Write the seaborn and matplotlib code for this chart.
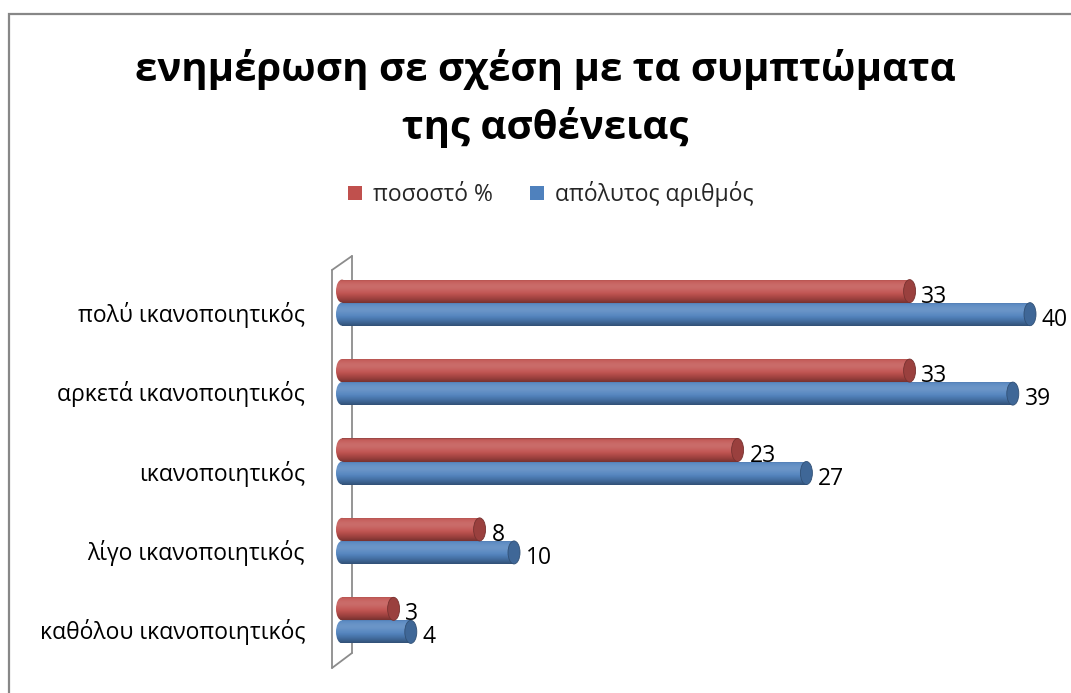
import numpy as np
import pandas as pd
import matplotlib
matplotlib.use("Agg")
import matplotlib.pyplot as plt
import matplotlib.transforms as mtransforms
import seaborn as sns
from matplotlib.patches import Ellipse, Rectangle, Patch
from matplotlib.lines import Line2D
from matplotlib.colors import to_rgb

# --- data -------------------------------------------------------------
categories = [
    "πολύ ικανοποιητικός",
    "αρκετά ικανοποιητικός",
    "ικανοποιητικός",
    "λίγο ικανοποιητικός",
    "καθόλου ικανοποιητικός",
]
percent = [33, 33, 23, 8, 3]
absolute = [40, 39, 27, 10, 4]
series_names = ["ποσοστό %", "απόλυτος αριθμός"]
title_lines = ["ενημέρωση σε σχέση με τα συμπτώματα", "της ασθένειας"]

df = pd.DataFrame({
    "κατηγορία": categories * 2,
    "τιμή": percent + absolute,
    "σειρά": [series_names[0]] * len(categories) + [series_names[1]] * len(categories),
})

colors = {series_names[0]: "#C0504D", series_names[1]: "#4F81BD"}

# --- styling ----------------------------------------------------------
sns.set_theme(style="white")
plt.rcParams["font.family"] = ["Open Sans", "DejaVu Sans"]

W, H = 1071, 693
fig = plt.figure(figsize=(W / 100, H / 100), dpi=100)
fig.patch.set_facecolor("white")


def fx(px):
    return px / W


def fy(py):
    return 1 - py / H


PX_PER_UNIT = 17.2
ZERO_PX = 342          # pixel column of value 0
X_MIN = -0.6           # room for the rounded back end of each bar
ax_left = ZERO_PX + X_MIN * PX_PER_UNIT
ax_top, ax_bottom = 255, 668
ax = fig.add_axes([fx(ax_left), fy(ax_bottom), (W - ax_left) / W, (ax_bottom - ax_top) / H])
ax.patch.set_visible(False)

sns.barplot(
    data=df, y="κατηγορία", x="τιμή", hue="σειρά",
    order=categories, hue_order=series_names, palette=colors,
    width=0.58, orient="h", saturation=1, legend=False, ax=ax,
)

cap_w = 12 / PX_PER_UNIT  # end-cap ellipse width in data units


def cylinder_shades(base, n=96):
    b = np.array(to_rgb(base))
    t = np.linspace(0, 1, n)
    light = 0.16 * np.exp(-((t - 0.3) / 0.25) ** 2)
    shade = 0.38 * np.clip((t - 0.55) / 0.45, 0, 1) ** 1.4 + 0.25 * np.exp(-(t / 0.04) ** 2)
    c = b + (1 - b) * light[:, None] - b * shade[:, None]
    return np.clip(c, 0, 1)[:, None, :]


def darker(base, f):
    return tuple(np.array(to_rgb(base)) * f)


for container, name, values in zip(ax.containers, series_names, [percent, absolute]):
    base = colors[name]
    shades = cylinder_shades(base)
    for bar, val in zip(container, values):
        x0, w = bar.get_x(), bar.get_width()
        y0, h = bar.get_y(), bar.get_height()
        yc = y0 + h / 2
        bar.set_facecolor("none")
        bar.set_edgecolor("none")
        # cylinder body
        im = ax.imshow(shades, extent=(x0, x0 + w, y0 + h, y0), origin="upper",
                       aspect="auto", interpolation="bilinear", zorder=2)
        im.set_clip_path(bar)
        # rounded back end
        back = Ellipse((x0, yc), cap_w, h, facecolor="none", edgecolor="none")
        ax.add_patch(back)
        im2 = ax.imshow(shades, extent=(x0 - cap_w / 2, x0 + cap_w / 2, y0 + h, y0),
                        origin="upper", aspect="auto", interpolation="bilinear", zorder=2)
        im2.set_clip_path(back)
        # visible end face
        ax.add_patch(Ellipse((x0 + w, yc), cap_w, h, facecolor=darker(base, 0.8),
                             edgecolor=darker(base, 0.62), lw=0.6, zorder=3))
        ax.annotate(f"{val}", xy=(x0 + w, yc), xytext=(8.5, -4), textcoords="offset points",
                    ha="left", va="center", fontsize=16.5, color="black", zorder=4)

ax.set_xlim(X_MIN, (W - ZERO_PX) / PX_PER_UNIT)
ax.set_ylim(len(categories) - 0.4, -0.6)
ax.set_xlabel("")
ax.set_ylabel("")
ax.set_xticks([])
for s in ax.spines.values():
    s.set_visible(False)
ax.tick_params(axis="y", length=0, pad=(ZERO_PX - 305) * 0.72 + X_MIN * PX_PER_UNIT * 0.72,
               labelsize=16.5, labelcolor="black")
shift = mtransforms.ScaledTranslation(0, -9 / 100, fig.dpi_scale_trans)
for lab in ax.get_yticklabels():
    lab.set_transform(lab.get_transform() + shift)

# back wall of the 3-D plot area
wall = "#8C8C8C"
for (xa, ya), (xb, yb) in [((332, 270), (332, 668)), ((352, 256), (352, 653)),
                           ((332, 270), (352, 256)), ((332, 668), (352, 653))]:
    fig.lines.append(Line2D([fx(xa), fx(xb)], [fy(ya), fy(yb)], transform=fig.transFigure,
                            color=wall, lw=1.3, zorder=-1))

# chart border
fig.patches.append(Rectangle((fx(9), -0.2), 1.2, fy(14) + 0.2, transform=fig.transFigure,
                             fill=False, edgecolor="#878787", lw=1.6, zorder=-2))

# title
for line, ypx in zip(title_lines, [70, 128]):
    fig.text(fx(545), fy(ypx), line, ha="center", va="center",
             fontsize=29, fontweight="bold", color="black")

# legend
handles = [Patch(facecolor=colors[n], edgecolor="none") for n in series_names]
fig.legend(handles, series_names, loc="center", bbox_to_anchor=(fx(551), fy(194)),
           ncol=2, frameon=False, fontsize=16.5, handlelength=0.6, handleheight=0.6,
           handletextpad=0.5, columnspacing=1.6, borderaxespad=0)

fig.savefig("out.png", dpi=100, facecolor="white")
